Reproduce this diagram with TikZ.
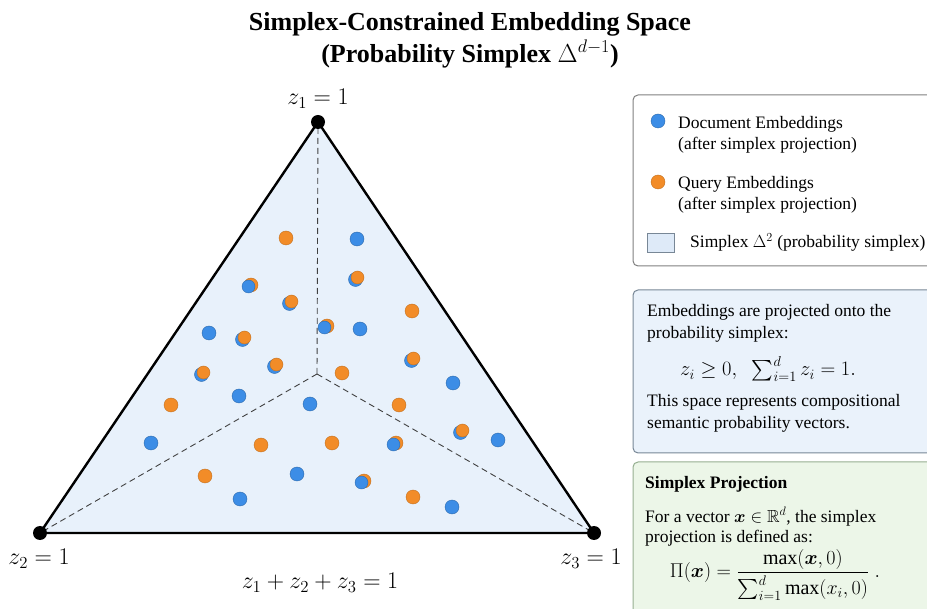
\RequirePackage{fix-cm}
\documentclass[tikz,border=0pt]{standalone}
\usepackage{amsmath,amssymb,bm}
\usepackage{fontspec}
\setmainfont{Liberation Serif}
\usetikzlibrary{positioning}

\definecolor{docblue}{RGB}{60,141,230}
\definecolor{qryorange}{RGB}{242,140,40}
\definecolor{simplexfill}{RGB}{232,241,251}
\definecolor{legendsq}{RGB}{222,234,248}
\definecolor{infofill}{RGB}{234,242,251}
\definecolor{infoline}{RGB}{120,135,150}
\definecolor{projfill}{RGB}{236,246,232}
\definecolor{projline}{RGB}{150,175,145}

\tikzset{
    docdot/.style={fill=docblue, draw=docblue!75!black, line width=0.4pt},
    qrydot/.style={fill=qryorange, draw=qryorange!80!black, line width=0.4pt},
    vertexdot/.style={fill=black},
    edgeline/.style={line width=2.4pt, line join=round},
    splitline/.style={dashed, dash pattern=on 6pt off 4pt, line width=0.9pt, black!75},
    panel/.style={rounded corners=5pt, line width=1pt},
    bodytext/.style={font=\fontsize{17.5}{22}\selectfont, inner sep=0pt, anchor=base west},
    mathlabel/.style={font=\fontsize{24}{28}\selectfont, inner sep=0pt}
}

\begin{document}
\begin{tikzpicture}[x=1pt, y=-1pt]
        \useasboundingbox (0,0) rectangle (927,609);

        % Title
        \node[font=\fontsize{26}{32}\selectfont\bfseries, align=center] (title) at (470,40)
            {Simplex-Constrained Embedding Space\\(Probability Simplex $\Delta^{d-1}$)};

        % Simplex
        \coordinate (v1) at (318,122);
        \coordinate (v2) at (40,533);
        \coordinate (v3) at (594,533);
        \coordinate (ctr) at (317,374);
        \fill[simplexfill] (v1) -- (v2) -- (v3) -- cycle;
        \draw[splitline] (ctr) -- (v1);
        \draw[splitline] (ctr) -- (v2);
        \draw[splitline] (ctr) -- (v3);

        % Document embeddings
        \foreach \px/\py in {357/239, 209/333, 360/329, 453/383, 239/396, 310/404,
                             151/443, 498/440, 297/474, 452/507, 240/499}
            \fill[docdot] (\px,\py) circle (7pt);
        % Query embeddings
        \foreach \px/\py in {286/238, 412/311, 342/373, 171/405, 399/405,
                             261/445, 332/443, 205/476, 413/497}
            \fill[qrydot] (\px,\py) circle (7pt);
        % Query on top of document
        \foreach \px/\py in {357/278, 291/302, 244/338, 413/359, 203/373, 276/365, 462/431} {
            \fill[docdot] (\px-1.5,\py+1.5) circle (7pt);
            \fill[qrydot] (\px+0.5,\py-0.5) circle (6.5pt);
        }
        % Document on top of query
        \foreach \px/\py in {249/286, 325/327, 394/444, 362/482} {
            \fill[qrydot] (\px+2,\py-1) circle (7pt);
            \fill[docdot] (\px-0.5,\py+0.5) circle (6.5pt);
        }

        \draw[edgeline] (v1) -- (v2) -- (v3) -- cycle;
        \fill[vertexdot] (v1) circle (7pt);
        \fill[vertexdot] (v2) circle (7pt);
        \fill[vertexdot] (v3) circle (7pt);

        \node[mathlabel] (lab1) at (318,99) {$z_1 = 1$};
        \node[mathlabel] (lab2) at (39,559) {$z_2 = 1$};
        \node[mathlabel] (lab3) at (591,559) {$z_3 = 1$};
        \node[mathlabel] (labsum) at (320,583) {$z_1 + z_2 + z_3 = 1$};

        % Legend
        \draw[panel, draw=black!50, fill=white] (633,95) rectangle (960,266);
        \fill[docdot] (658,121) circle (7pt);
        \node[bodytext] (legdoc) at (678,129) {Document Embeddings};
        \node[bodytext] (legdoc2) at (678,150) {(after simplex projection)};
        \fill[qrydot] (658,182) circle (7pt);
        \node[bodytext] (legqry) at (678,189) {Query Embeddings};
        \node[bodytext] (legqry2) at (678,210) {(after simplex projection)};
        \draw[fill=legendsq, draw=infoline, line width=0.8pt] (647,233) rectangle (674,252);
        \node[bodytext] (legsim) at (690,248) {Simplex $\Delta^2$ (probability simplex)};

        % Constraint box
        \draw[panel, draw=infoline, fill=infofill] (633,290) rectangle (960,453);
        \node[bodytext] (info1) at (647,317) {Embeddings are projected onto the};
        \node[bodytext] (info2) at (647,339) {probability simplex:};
        \node[bodytext, font=\fontsize{20.5}{24}\selectfont] (info3) at (680,376)
            {$z_i \ge 0,\;\; \sum_{i=1}^{d} z_i = 1.$};
        \node[bodytext] (info4) at (647,407) {This space represents compositional};
        \node[bodytext] (info5) at (647,429) {semantic probability vectors.};

        % Projection box
        \draw[panel, draw=projline, fill=projfill] (633,462) rectangle (960,640);
        \node[bodytext, font=\fontsize{17.5}{22}\selectfont\bfseries] (projtitle) at (645,489) {Simplex Projection};
        \node[bodytext] (proj1) at (645,522) {For a vector $\bm{x} \in \mathbb{R}^d$, the simplex};
        \node[bodytext] (proj2) at (645,543) {projection is defined as:};
        \node[font=\fontsize{20}{24}\selectfont, inner sep=0pt] (projeq) at (775,575)
            {$\Pi(\bm{x}) = \dfrac{\max(\bm{x},0)}{\sum_{i=1}^{d}\max(x_i,0)}\;.$};
    \end{tikzpicture}
\end{document}
